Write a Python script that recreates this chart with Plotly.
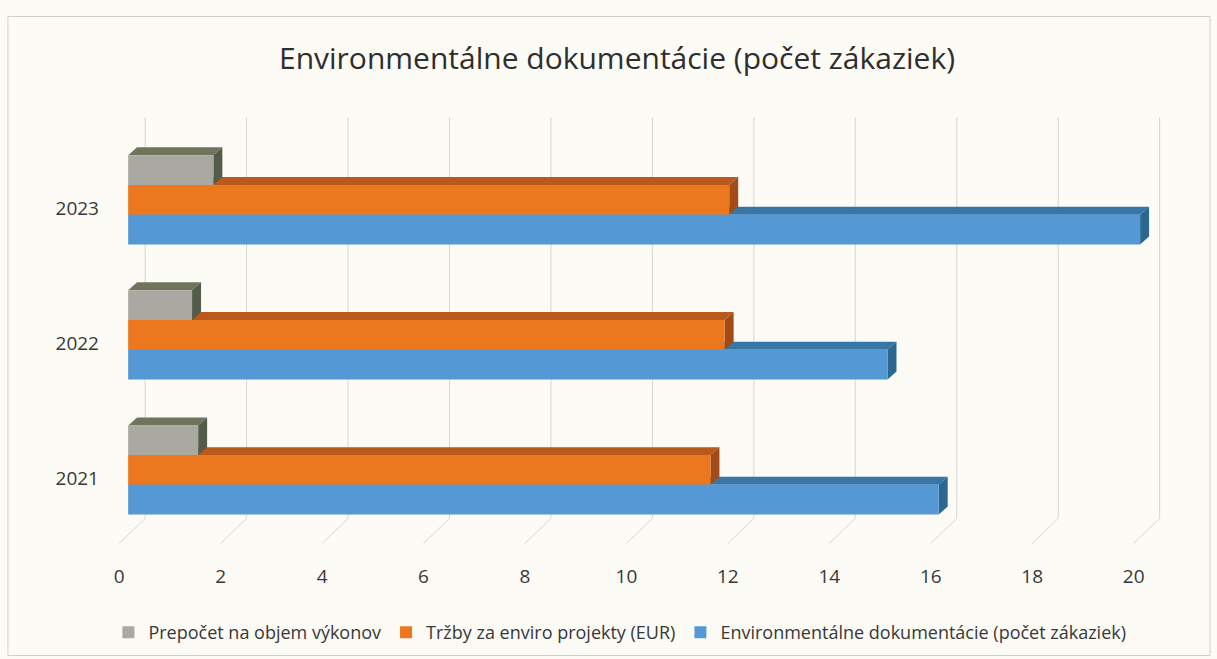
import plotly.graph_objects as go

# ---- data ----
years = ["2021", "2022", "2023"]
prepocet = [1.38, 1.26, 1.68]
trzby = [11.48, 11.76, 11.85]
env_dok = [15.98, 14.97, 19.95]
x_ticks = [0, 2, 4, 6, 8, 10, 12, 14, 16, 18, 20]

series = [
    ("Prepočet na objem výkonov", prepocet, "#a9a9a1", "#70745f", "#535b49", 0.11),
    ("Tržby za enviro projekty (EUR)", trzby, "#eb771e", "#b9591c", "#a14c17", -0.11),
    ("Environmentálne dokumentácie (počet zákaziek)", env_dok, "#5598d6", "#3776a6", "#2b6890", -0.33),
]

BAR_W = 0.22
DX = 0.177   # 3D depth along x (data units)
DY = 0.059   # 3D depth along y (data units)
WALL_DX = 0.335
FLOOR_FRONT_Y = -0.544
WALL_BOTTOM_Y = -0.359
WALL_TOP_Y = 2.611

FONT = "Open Sans"
TXT = "#383838"

pos = list(range(len(years)))

fig = go.Figure()
shapes = []

# back wall gridlines and floor lines
for t in x_ticks:
    shapes.append(dict(type="line", xref="x", yref="y", x0=t + WALL_DX, x1=t + WALL_DX,
                       y0=WALL_BOTTOM_Y, y1=WALL_TOP_Y, line=dict(color="#d6d6d2", width=1), layer="below"))
    shapes.append(dict(type="line", xref="x", yref="y", x0=t - DX, x1=t + WALL_DX,
                       y0=FLOOR_FRONT_Y, y1=WALL_BOTTOM_Y, line=dict(color="#d6d6d2", width=1), layer="below"))

top_faces = []
side_faces = []
for name, vals, front, topc, sidec, off in series:
    fig.add_trace(go.Bar(
        y=pos, x=vals, orientation="h", name=name, width=BAR_W, offset=off,
        marker=dict(color=front, line=dict(width=0)),
        hovertemplate="%{x}<extra>" + name + "</extra>",
    ))
    for p, v in zip(pos, vals):
        bot = p + off
        top = bot + BAR_W
        top_faces.append(dict(type="path", xref="x", yref="y", layer="below",
                              path=f"M 0,{top} L {v},{top} L {v+DX},{top+DY} L {DX},{top+DY} Z",
                              fillcolor=topc, line=dict(width=0)))
        side_faces.append(dict(type="path", xref="x", yref="y", layer="below",
                               path=f"M {v},{bot} L {v},{top} L {v+DX},{top+DY} L {v+DX},{bot+DY} Z",
                               fillcolor=sidec, line=dict(width=0)))

shapes += top_faces + side_faces

# chart border
shapes.append(dict(type="rect", xref="paper", yref="paper", x0=-0.1048, x1=1.04, y0=-0.238, y1=1.2175,
                   line=dict(color="#cfcfcf", width=1), fillcolor="rgba(0,0,0,0)", layer="below"))

fig.update_layout(
    width=1217, height=659,
    margin=dict(l=118, r=49, t=112, b=108, autoexpand=False),
    paper_bgcolor="#fcfbf6", plot_bgcolor="#fcfbf6",
    barmode="group",
    shapes=shapes,
    title=dict(text="Environmentálne dokumentácie (počet zákaziek)", x=0.507, xanchor="center",
               y=1 - 58 / 659, yanchor="middle", yref="container",
               font=dict(family=FONT, size=30, color="#2e2e2e")),
    xaxis=dict(range=[-0.2, 20.5], tickvals=[t - DX for t in x_ticks], ticktext=[str(t) for t in x_ticks],
               showgrid=False, zeroline=False, showline=False, ticks="", automargin=False,
               ticklabelstandoff=12, tickfont=dict(family=FONT, size=19, color=TXT)),
    yaxis=dict(range=[-0.6, 2.65], tickvals=[p - 0.06 for p in pos], ticktext=years,
               showgrid=False, zeroline=False, showline=False, ticks="", automargin=False,
               ticklabelstandoff=18, tickfont=dict(family=FONT, size=19, color=TXT)),
    legend=dict(orientation="h", x=0.478, xanchor="center", y=-0.186, yanchor="middle",
                traceorder="normal", font=dict(family=FONT, size=18, color=TXT),
                itemwidth=30, bgcolor="rgba(0,0,0,0)"),
    showlegend=True,
)

fig.write_html("out.html", config={"displayModeBar": False},
               post_script="document.body.style.margin='0';")
